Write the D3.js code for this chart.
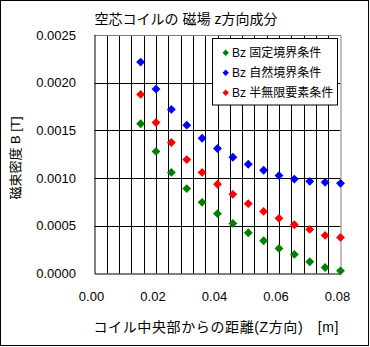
<!DOCTYPE html>
<html><head><meta charset="utf-8">
<script src="https://cdn.jsdelivr.net/npm/d3@7"></script>
<style>
html,body{margin:0;padding:0;background:#fff;}
text{font-family:"Liberation Sans","Noto Sans CJK JP",sans-serif;fill:#000;}
</style></head>
<body><svg id="c" width="370" height="347"></svg>
<script>
const distances = [0.015,0.020,0.025,0.030,0.035,0.040,0.045,0.050,0.055,0.060,0.065,0.070,0.075,0.080];
const bzFixed   = [0.00157,0.00128,0.00106,0.00089,0.000746,0.000627,0.000525,0.000427,0.000343,0.000263,0.000200,0.000123,0.000063,0.000028];
const bzNatural = [0.002216,0.001933,0.00172,0.001555,0.001418,0.00131,0.001218,0.001145,0.001082,0.001026,0.00099,0.000966,0.000956,0.000945];
const bzSemiInf = [0.001877,0.001583,0.001373,0.001194,0.00106,0.000935,0.00083,0.000732,0.000651,0.000578,0.000511,0.000462,0.000399,0.000378];
const seriesNames = ["Bz 固定境界条件","Bz 自然境界条件","Bz 半無限要素条件"];
const seriesColors = ["#008000","#0000FF","#FF0000"];
const xTicks = [0,0.02,0.04,0.06,0.08];
const yTicks = [0,0.0005,0.0010,0.0015,0.0020,0.0025];
const xGrid = d3.range(0,21).map(i=>i*0.004);
const titleText = "空芯コイルの 磁場 z方向成分";
const xTitle = "コイル中央部からの距離(Z方向)　[m]";
const yTitle = "磁束密度 B [T]";

const svg = d3.select("#c");
const L=94.5, R=340.5, T=35, B=273.5;
const x = d3.scaleLinear().domain([0,0.08]).range([L,R]);
const y = d3.scaleLinear().domain([0,0.0025]).range([B,T]);

svg.append("rect").attr("x",0.5).attr("y",0.5).attr("width",368).attr("height",345)
  .attr("fill","#fff").attr("stroke","#000");

// grid
svg.append("g").selectAll("line").data(xGrid.slice(1,-1)).join("line")
  .attr("x1",d=>Math.round(x(d))+0.5).attr("x2",d=>Math.round(x(d))+0.5)
  .attr("y1",T).attr("y2",B).attr("stroke","#000").attr("stroke-width",1);
svg.append("g").selectAll("line").data(yTicks.slice(1,-1)).join("line")
  .attr("x1",L).attr("x2",R)
  .attr("y1",d=>Math.round(y(d))+0.5).attr("y2",d=>Math.round(y(d))+0.5)
  .attr("stroke","#000");
// plot border
svg.append("path").attr("d",`M${L},${T+0.5}H${R+0.5}V${B}`).attr("fill","none").attr("stroke","#808080");
svg.append("path").attr("d",`M${L+0.5},${T}V${B+0.5}H${R+0.5}`).attr("fill","none").attr("stroke","#000");

// axes labels
const fmtY = d3.format(".4f"), fmtX = d3.format(".2f");
svg.append("g").selectAll("text").data(yTicks).join("text")
  .attr("x",76).attr("y",d=>y(d)).attr("dy","0.35em").attr("text-anchor","end")
  .attr("font-size",13).text(d=>fmtY(d));
svg.append("g").selectAll("text").data(xTicks).join("text")
  .attr("x",d=>x(d)-3).attr("y",301).attr("text-anchor","middle")
  .attr("font-size",13).text(d=>fmtX(d));

// markers
const diamond = d3.symbol().type(d3.symbolDiamond2).size(50);
const series = [bzFixed,bzNatural,bzSemiInf];
series.forEach((vals,i)=>{
  svg.append("g").selectAll("path").data(vals.map((v,j)=>[distances[j],v])).join("path")
    .attr("d",diamond).attr("transform",d=>`translate(${x(d[0])},${y(d[1])})`)
    .attr("fill",seriesColors[i]);
});

// legend
svg.append("rect").attr("x",212.5).attr("y",38.5).attr("width",125).attr("height",66.5)
  .attr("fill","#fff").attr("stroke","#000");
const smallDiamond = d3.symbol().type(d3.symbolDiamond2).size(26);
seriesNames.forEach((n,i)=>{
  const cy = 52.7+i*20;
  svg.append("path").attr("d",smallDiamond).attr("transform",`translate(225.7,${cy})`).attr("fill",seriesColors[i]);
  svg.append("text").attr("x",232).attr("y",cy).attr("dy","0.38em").attr("font-size",12).text(n);
});

// titles
svg.append("text").attr("x",186).attr("y",24).attr("text-anchor","middle").attr("font-size",14).text(titleText);
svg.append("text").attr("x",216).attr("y",332).attr("text-anchor","middle").attr("font-size",14)
  .attr("textLength",245).text(xTitle);
svg.append("text").attr("transform","translate(20,158) rotate(-90)").attr("text-anchor","middle")
  .attr("font-size",13).text(yTitle);
</script></body></html>
